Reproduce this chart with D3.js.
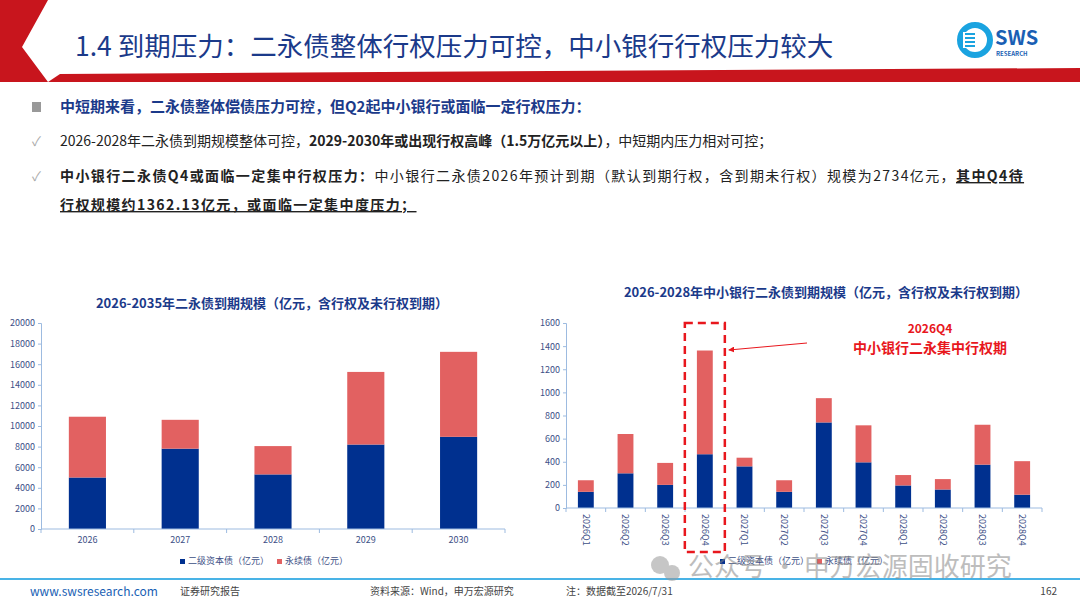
<!DOCTYPE html>
<html lang="zh">
<head>
<meta charset="utf-8">
<title>到期压力</title>
<script src="https://cdnjs.cloudflare.com/ajax/libs/d3/7.8.5/d3.min.js"></script>
<style>
  body { margin: 0; background: #fff; font-family: "Noto Sans CJK SC", "Noto Sans", sans-serif; }
  svg text { font-family: "Noto Sans CJK SC", "Noto Sans", sans-serif; }
</style>
</head>
<body>
<svg id="page" width="1080" height="608"></svg>
<script>
// annual data (left chart)
const years = ["2026", "2027", "2028", "2029", "2030"];
const tier2Year = [5000, 7800, 5300, 8200, 8950];
const perpYear = [5900, 2800, 2750, 7050, 8250];
const leftTicks = [0, 2000, 4000, 6000, 8000, 10000, 12000, 14000, 16000, 18000, 20000];

// quarterly data, small & mid banks (right chart)
const quarters = ["2026Q1", "2026Q2", "2026Q3", "2026Q4", "2027Q1", "2027Q2", "2027Q3", "2027Q4", "2028Q1", "2028Q2", "2028Q3", "2028Q4"];
const tier2Q = [140, 300, 200, 465, 360, 140, 740, 395, 195, 160, 375, 115];
const perpQ = [100, 340, 190, 897, 75, 100, 210, 320, 90, 90, 345, 290];
const rightTicks = [0, 200, 400, 600, 800, 1000, 1200, 1400, 1600];

const seriesNames = ["二级资本债（亿元）", "永续债（亿元）"];
const BLUE = "#00308f", RED = "#e26161", AXIS = "#9dbbe0", TICK = "#3c4f86";

const svg = d3.select("#page");

// header
svg.append("path").attr("d", "M0,0 L48,0 L22,47 L48,82 L0,82 Z").attr("fill", "#c8151d");
svg.append("path").attr("d", "M48,82 L1080,82 L1080,68 L60,74 Z").attr("fill", "#c8151d");
svg.append("text").attr("x", 75).attr("y", 56).attr("font-size", 26.5).attr("fill", "#1b3a8a")
  .text("1.4 到期压力：二永债整体行权压力可控，中小银行行权压力较大");
// logo
const logo = svg.append("g").attr("transform", "translate(975,40)");
logo.append("circle").attr("r", 15).attr("fill", "none").attr("stroke", "#1aa3e0").attr("stroke-width", 6);
logo.append("rect").attr("x", -12).attr("y", -8).attr("width", 14).attr("height", 16).attr("fill", "#fff");
[-6, -2, 2, 6].forEach(d => logo.append("rect").attr("x", -10).attr("y", d - 1).attr("width", 10).attr("height", 2).attr("fill", "#1aa3e0"));
logo.append("text").attr("x", 20).attr("y", 5).attr("font-size", 20).attr("font-weight", "bold").attr("fill", "#1a5fb4").attr("font-family", "Roboto").text("SWS");
logo.append("text").attr("x", 21).attr("y", 16).attr("font-size", 6).attr("font-weight", "bold").attr("fill", "#1a5fb4").text("RESEARCH");

// bullets
svg.append("rect").attr("x", 32).attr("y", 102).attr("width", 9).attr("height", 10).attr("fill", "#999");
svg.append("text").attr("x", 60).attr("y", 112).attr("font-size", 15).attr("font-weight", "bold").attr("fill", "#1b3a8a")
  .text("中短期来看，二永债整体偿债压力可控，但Q2起中小银行或面临一定行权压力：");
svg.append("text").attr("x", 32).attr("y", 146).attr("font-size", 13).attr("fill", "#aaa").text("✓");
svg.append("text").attr("x", 32).attr("y", 181).attr("font-size", 13).attr("fill", "#aaa").text("✓");
const l1 = svg.append("text").attr("x", 60).attr("y", 146).attr("font-size", 14).attr("fill", "#222");
l1.append("tspan").text("2026-2028年二永债到期规模整体可控，");
l1.append("tspan").attr("font-weight", "bold").text("2029-2030年或出现行权高峰（1.5万亿元以上）");
l1.append("tspan").text("，中短期内压力相对可控；");
const l2 = svg.append("text").attr("x", 60).attr("y", 181).attr("font-size", 14).attr("fill", "#222").attr("letter-spacing", 1.4);
l2.append("tspan").attr("font-weight", "bold").text("中小银行二永债Q4或面临一定集中行权压力：");
l2.append("tspan").text("中小银行二永债2026年预计到期（默认到期行权，含到期未行权）规模为2734亿元，");
l2.append("tspan").attr("font-weight", "bold").attr("text-decoration", "underline").text("其中Q4待");
svg.append("text").attr("x", 60).attr("y", 210).attr("font-size", 14).attr("font-weight", "bold").attr("fill", "#222")
  .attr("letter-spacing", 1.4).attr("text-decoration", "underline").text("行权规模约1362.13亿元，或面临一定集中度压力；");

function stacked(opts) {
  const g = svg.append("g");
  const x = d3.scaleBand().domain(opts.cats).range([opts.x0, opts.x1]).paddingInner(opts.pad).paddingOuter(opts.pad / 2);
  const y = d3.scaleLinear().domain([0, d3.max(opts.ticks)]).range([opts.y0, opts.y1]);
  const data = opts.cats.map((c, i) => ({ c, a: opts.a[i], b: opts.b[i] }));
  g.selectAll(".a").data(data).join("rect").attr("x", d => x(d.c)).attr("width", x.bandwidth())
    .attr("y", d => y(d.a)).attr("height", d => y(0) - y(d.a)).attr("fill", BLUE);
  g.selectAll(".b").data(data).join("rect").attr("x", d => x(d.c)).attr("width", x.bandwidth())
    .attr("y", d => y(d.a + d.b)).attr("height", d => y(d.a) - y(d.a + d.b)).attr("fill", RED);
  const ya = g.append("g").attr("transform", `translate(${opts.x0},0)`)
    .call(d3.axisLeft(y).tickValues(opts.ticks).tickSize(3).tickFormat(d3.format("d")));
  const xa = g.append("g").attr("transform", `translate(0,${opts.y0})`)
    .call(d3.axisBottom(x).tickSize(0).tickPadding(8));
  const step = x.step();
  g.selectAll(".bt").data(d3.range(opts.cats.length + 1)).join("line")
    .attr("x1", i => opts.x0 + i * step).attr("x2", i => opts.x0 + i * step)
    .attr("y1", opts.y0).attr("y2", opts.y0 + 4).attr("stroke", AXIS);
  [ya, xa].forEach(a => {
    a.selectAll("path,line").attr("stroke", AXIS);
    a.selectAll("text").attr("fill", TICK).attr("font-size", 9).attr("font-family", "Liberation Sans");
  });
  xa.select(".domain").attr("d", `M${opts.x0},0H${opts.x1}`);
  if (opts.rotate) {
    xa.selectAll("text").attr("transform", "rotate(90)").attr("text-anchor", "start")
      .attr("dy", "0.35em").attr("x", 6).attr("y", 0);
  }
  g.append("text").attr("x", opts.tx).attr("y", opts.ty).attr("text-anchor", "middle")
    .attr("font-size", 13).attr("font-weight", "bold").attr("fill", "#1b3a8a").text(opts.title);
  const lg = g.append("g").attr("transform", `translate(${opts.lx},${opts.ly})`);
  seriesNames.forEach((n, i) => {
    const off = i * 97;
    lg.append("rect").attr("x", off).attr("y", -5).attr("width", 5).attr("height", 5).attr("fill", i ? RED : BLUE);
    lg.append("text").attr("x", off + 8).attr("y", 0).attr("font-size", 9).attr("fill", TICK).text(n);
  });
  return { x, y };
}

stacked({ cats: years, a: tier2Year, b: perpYear, ticks: leftTicks, pad: 0.6,
  x0: 41, x1: 505, y0: 529, y1: 323, title: "2026-2035年二永债到期规模（亿元，含行权及未行权到期）",
  tx: 272, ty: 308, lx: 180, ly: 564 });

const r = stacked({ cats: quarters, a: tier2Q, b: perpQ, ticks: rightTicks, pad: 0.6, rotate: true,
  x0: 566, x1: 1042, y0: 508, y1: 323, title: "2026-2028年中小银行二永债到期规模（亿元，含行权及未行权到期）",
  tx: 826, ty: 297, lx: 720, ly: 564 });

// highlight box around 2026Q4
const qx = r.x("2026Q4") + r.x.bandwidth() / 2;
svg.append("rect").attr("x", qx - 20).attr("y", r.y(1600)).attr("width", 40).attr("height", 229)
  .attr("fill", "none").attr("stroke", "#e8171d").attr("stroke-width", 2.5).attr("stroke-dasharray", "8,5");
svg.append("defs").append("marker").attr("id", "ah").attr("viewBox", "0 0 10 10").attr("refX", 9).attr("refY", 5)
  .attr("markerWidth", 6).attr("markerHeight", 6).attr("orient", "auto")
  .append("path").attr("d", "M0,0 L10,5 L0,10 Z").attr("fill", "#e8171d");
svg.append("line").attr("x1", 807).attr("y1", 343).attr("x2", qx + 24).attr("y2", 350)
  .attr("stroke", "#e8171d").attr("stroke-width", 1).attr("marker-end", "url(#ah)");
svg.append("text").attr("x", 930).attr("y", 333).attr("text-anchor", "middle").attr("font-size", 12)
  .attr("font-weight", "bold").attr("fill", "#e8171d").text("2026Q4");
svg.append("text").attr("x", 930).attr("y", 353).attr("text-anchor", "middle").attr("font-size", 14)
  .attr("font-weight", "bold").attr("fill", "#e8171d").text("中小银行二永集中行权期");

// footer
svg.append("line").attr("x1", 0).attr("x2", 1080).attr("y1", 579).attr("y2", 579).attr("stroke", "#49b3e6").attr("stroke-width", 2);
svg.append("text").attr("x", 30).attr("y", 596).attr("font-size", 12).attr("fill", "#1a5fb4").attr("font-family", "Liberation Sans").text("www.swsresearch.com");
svg.append("text").attr("x", 180).attr("y", 595).attr("font-size", 10).attr("fill", "#444").text("证券研究报告");
svg.append("text").attr("x", 370).attr("y", 595).attr("font-size", 10).attr("fill", "#444").text("资料来源：Wind，申万宏源研究");
svg.append("text").attr("x", 566).attr("y", 595).attr("font-size", 10).attr("fill", "#444").text("注：数据截至2026/7/31");
svg.append("text").attr("x", 1057).attr("y", 595).attr("text-anchor", "end").attr("font-size", 10).attr("fill", "#444").text("162");
// watermark
const wm = svg.append("g").attr("opacity", 0.55);
wm.append("circle").attr("cx", 660).attr("cy", 565).attr("r", 9).attr("fill", "#999");
wm.append("circle").attr("cx", 672).attr("cy", 573).attr("r", 8).attr("fill", "#999");
wm.append("text").attr("x", 688).attr("y", 576).attr("font-size", 26).attr("fill", "#888").text("公众号 · 申万宏源固收研究");
</script>
</body>
</html>
